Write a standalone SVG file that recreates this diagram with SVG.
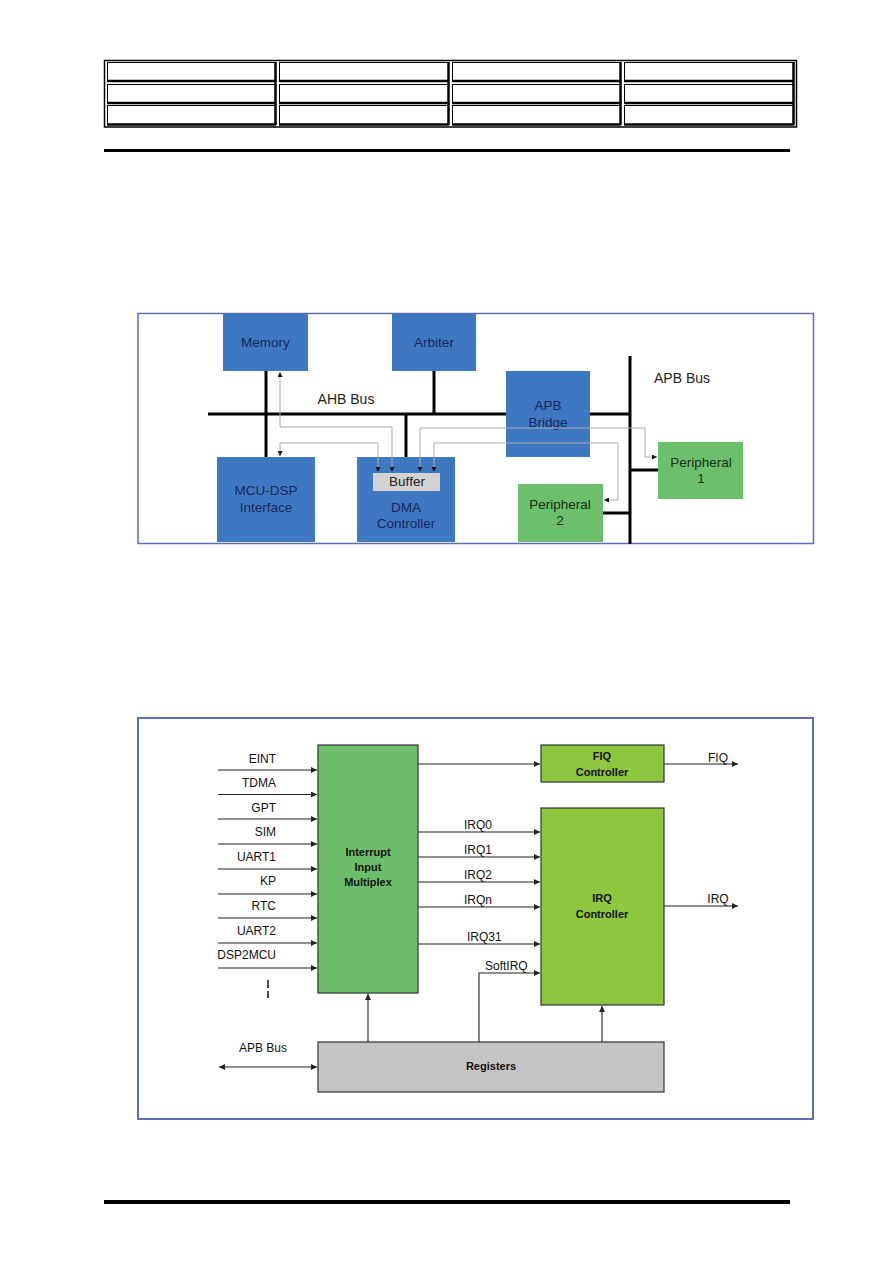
<svg xmlns="http://www.w3.org/2000/svg" width="893" height="1263" viewBox="0 0 893 1263">
<defs>
<style>
text{font-family:"Liberation Sans",Arial,Helvetica,sans-serif}
.bt{font-size:13.5px;fill:#15275a;text-anchor:middle}
.gt{font-size:13.5px;fill:#143014;text-anchor:middle}
.lbl{font-size:14px;fill:#222;text-anchor:middle}
.bus{stroke:#000;stroke-width:3;fill:none}
.gl{stroke:#a9a9a9;stroke-width:1;fill:none}
.blue{fill:#3f78c2}
.grn{fill:#6cbf6b}
.in{font-size:12px;fill:#111}
.inr{font-size:12px;fill:#111;text-anchor:end}
.bx{font-size:11px;font-weight:bold;fill:#111;text-anchor:middle}
.cn{stroke:#222;stroke-width:1.1;fill:none}
.cell{fill:#fff;stroke:#000;stroke-width:1}
.sh{stroke:#000;stroke-width:2.5}
</style>
<marker id="sa" viewBox="0 0 10 10" refX="10" refY="5" markerWidth="5" markerHeight="5" markerUnits="userSpaceOnUse" orient="auto-start-reverse"><path d="M0,0 L10,5 L0,10 z" fill="#111"/></marker>
<marker id="ah" viewBox="0 0 10 10" refX="10" refY="5" markerWidth="7" markerHeight="6" markerUnits="userSpaceOnUse" orient="auto-start-reverse"><path d="M0,0 L10,5 L0,10 z" fill="#222"/></marker>
</defs>
<rect width="893" height="1263" fill="#fff"/>

<!-- header table -->
<g id="header-table">
<rect x="104.5" y="60.5" width="692" height="66.5" fill="#fff" stroke="#000" stroke-width="1.5"/>
<g>
<rect class="cell" x="107.5" y="62.5" width="168" height="19"/>
<rect class="cell" x="279.5" y="62.5" width="169" height="19"/>
<rect class="cell" x="452.5" y="62.5" width="168" height="19"/>
<rect class="cell" x="624.5" y="62.5" width="169" height="19"/>
<rect class="cell" x="107.5" y="84.5" width="168" height="18.5"/>
<rect class="cell" x="279.5" y="84.5" width="169" height="18.5"/>
<rect class="cell" x="452.5" y="84.5" width="168" height="18.5"/>
<rect class="cell" x="624.5" y="84.5" width="169" height="18.5"/>
<rect class="cell" x="107.5" y="105.5" width="168" height="19"/>
<rect class="cell" x="279.5" y="105.5" width="169" height="19"/>
<rect class="cell" x="452.5" y="105.5" width="168" height="19"/>
<rect class="cell" x="624.5" y="105.5" width="169" height="19"/>
</g>
<path class="sh" d="M107,81 H276 M279,81 H449 M452,81 H621 M624,81 H794 M107,103 H276 M279,103 H449 M452,103 H621 M624,103 H794 M107,124.5 H276 M279,124.5 H449 M452,124.5 H621 M624,124.5 H794"/>
<path class="sh" d="M275.5,62 V125 M448.5,62 V125 M620.5,62 V125 M793.5,62 V125"/>
</g>
<path d="M104,150.5 H790" stroke="#000" stroke-width="3"/>
<path d="M104,1202 H790" stroke="#000" stroke-width="4"/>

<!-- Top diagram -->
<rect id="frame1" x="138" y="313.5" width="675.5" height="230" fill="#fff" stroke="#5b6db5" stroke-width="1.5"/>
<g id="buses">
<path class="bus" d="M208,414 H630"/>
<path class="bus" d="M630,356 V544"/>
<path class="bus" d="M266,371 V457"/>
<path class="bus" d="M434,371 V414"/>
<path class="bus" d="M406,414 V457"/>
<path class="bus" d="M630,470 H658"/>
<path class="bus" d="M603,513 H630"/>
</g>
<g id="memory"><rect class="blue" x="223" y="314" width="85" height="57"/><text class="bt" x="265.5" y="347">Memory</text></g>
<g id="arbiter"><rect class="blue" x="392" y="314" width="84" height="57"/><text class="bt" x="434" y="347">Arbiter</text></g>
<g id="apb-bridge"><rect class="blue" x="506" y="371" width="84" height="86"/><text class="bt" x="548" y="410">APB</text><text class="bt" x="548" y="427">Bridge</text></g>
<g id="mcu-dsp"><rect class="blue" x="217" y="457" width="98" height="85"/><text class="bt" x="266" y="495">MCU-DSP</text><text class="bt" x="266" y="512">Interface</text></g>
<g id="dma"><rect class="blue" x="357" y="457" width="98" height="85"/><text class="bt" x="406" y="512">DMA</text><text class="bt" x="406" y="528">Controller</text></g>
<g id="buffer"><rect x="373" y="473" width="67" height="18" fill="#d3d3d3"/><text x="407" y="486" text-anchor="middle" font-size="13.5" fill="#222">Buffer</text></g>
<g id="peripheral1"><rect class="grn" x="658" y="442" width="85" height="57"/><text class="gt" x="701" y="467">Peripheral</text><text class="gt" x="701" y="483">1</text></g>
<g id="peripheral2"><rect class="grn" x="518" y="484" width="85" height="58"/><text class="gt" x="560" y="509">Peripheral</text><text class="gt" x="560" y="525">2</text></g>
<g id="dma-paths">
<path class="gl" d="M392,472 V427 H280 V372" marker-start="url(#sa)" marker-end="url(#sa)"/>
<path class="gl" d="M378,472 V443 H280 V456" marker-start="url(#sa)" marker-end="url(#sa)"/>
<path class="gl" d="M420,472 V428 H645 V457 H657" marker-start="url(#sa)" marker-end="url(#sa)"/>
<path class="gl" d="M434,472 V443 H618 V500 H604" marker-start="url(#sa)" marker-end="url(#sa)"/>
</g>
<text class="lbl" x="346" y="404">AHB Bus</text>
<text class="lbl" x="682" y="383">APB Bus</text>

<!-- Bottom diagram -->
<rect id="frame2" x="138" y="718" width="675" height="401" fill="#fff" stroke="#5b6db5" stroke-width="2"/>
<g id="connectors">
<path class="cn" d="M218,770 H317" marker-end="url(#ah)"/>
<path class="cn" d="M218,794.5 H317" marker-end="url(#ah)"/>
<path class="cn" d="M218,819 H317" marker-end="url(#ah)"/>
<path class="cn" d="M218,844 H317" marker-end="url(#ah)"/>
<path class="cn" d="M218,869 H317" marker-end="url(#ah)"/>
<path class="cn" d="M218,894 H317" marker-end="url(#ah)"/>
<path class="cn" d="M218,918 H317" marker-end="url(#ah)"/>
<path class="cn" d="M218,943 H317" marker-end="url(#ah)"/>
<path class="cn" d="M218,968 H317" marker-end="url(#ah)"/>
<path d="M268,980 V988 M268,991 V998" stroke="#222" stroke-width="1.6"/>
<path class="cn" d="M418,764 H540" marker-end="url(#ah)"/>
<path class="cn" d="M664,764 H738" marker-end="url(#ah)"/>
<path class="cn" d="M664,906 H738" marker-end="url(#ah)"/>
<path class="cn" d="M418,832 H540" marker-end="url(#ah)"/>
<path class="cn" d="M418,857 H540" marker-end="url(#ah)"/>
<path class="cn" d="M418,882 H540" marker-end="url(#ah)"/>
<path class="cn" d="M418,907 H540" marker-end="url(#ah)"/>
<path class="cn" d="M418,944 H540" marker-end="url(#ah)"/>
<path class="cn" d="M479,1042 V973 H540" marker-end="url(#ah)"/>
<path class="cn" d="M368,1042 V994" marker-end="url(#ah)"/>
<path class="cn" d="M602,1042 V1006" marker-end="url(#ah)"/>
<path class="cn" d="M219,1067 H317" marker-start="url(#ah)" marker-end="url(#ah)"/>
</g>
<g id="input-labels">
<text class="inr" x="276" y="763">EINT</text>
<text class="inr" x="276" y="787">TDMA</text>
<text class="inr" x="276" y="811.5">GPT</text>
<text class="inr" x="276" y="836">SIM</text>
<text class="inr" x="276" y="861">UART1</text>
<text class="inr" x="276" y="885">KP</text>
<text class="inr" x="276" y="910">RTC</text>
<text class="inr" x="276" y="935">UART2</text>
<text class="inr" x="276" y="959">DSP2MCU</text>
<text class="in" x="464" y="829">IRQ0</text>
<text class="in" x="464" y="854">IRQ1</text>
<text class="in" x="464" y="879">IRQ2</text>
<text class="in" x="464" y="904">IRQn</text>
<text class="in" x="467" y="941">IRQ31</text>
<text class="in" x="485" y="970">SoftIRQ</text>
<text class="in" x="718" y="762" text-anchor="middle">FIQ</text>
<text class="in" x="718" y="903" text-anchor="middle">IRQ</text>
<text class="in" x="263" y="1052" text-anchor="middle">APB Bus</text>
</g>
<g id="multiplex"><rect x="318" y="745" width="100" height="248" fill="#6cbe6a" stroke="#333" stroke-width="1.2"/><text class="bx" x="368" y="856">Interrupt</text><text class="bx" x="368" y="871">Input</text><text class="bx" x="368" y="886">Multiplex</text></g>
<g id="fiq-controller"><rect x="541" y="745" width="123" height="37" fill="#8fc63f" stroke="#333" stroke-width="1.2"/><text class="bx" x="602" y="760">FIQ</text><text class="bx" x="602" y="776">Controller</text></g>
<g id="irq-controller"><rect x="541" y="808" width="123" height="197" fill="#8fc63f" stroke="#333" stroke-width="1.2"/><text class="bx" x="602" y="902">IRQ</text><text class="bx" x="602" y="918">Controller</text></g>
<g id="registers"><rect x="318" y="1042" width="346" height="50" fill="#c4c4c4" stroke="#333" stroke-width="1.2"/><text class="bx" x="491" y="1070">Registers</text></g>
</svg>
